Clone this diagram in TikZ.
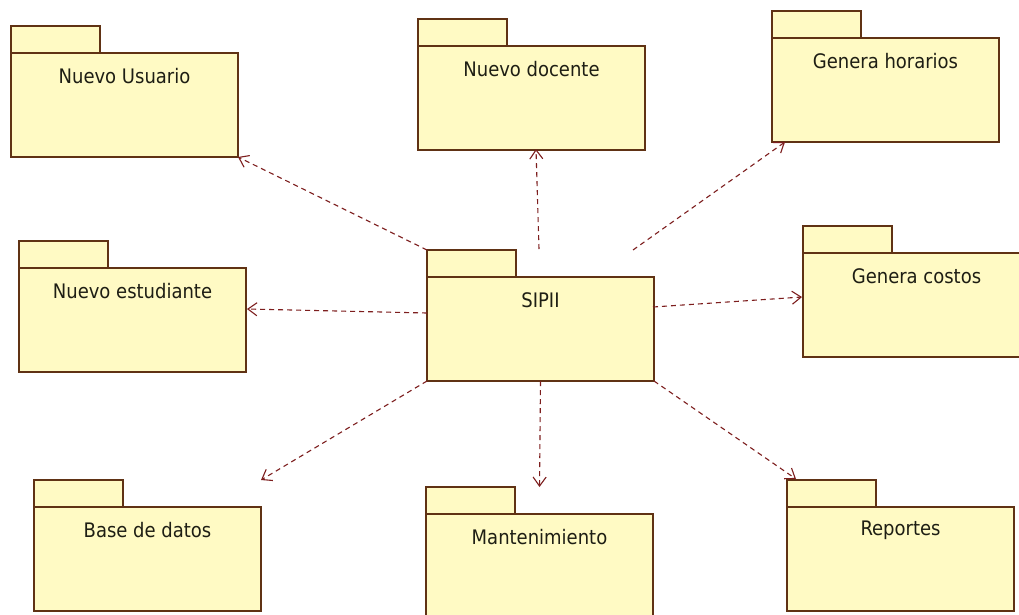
\documentclass[tikz,border=0pt]{standalone}
\usepackage{fontspec}
\setmainfont{DejaVu Sans Condensed}
\usetikzlibrary{arrows.meta}
\definecolor{pkgfill}{RGB}{255,250,196}
\definecolor{pkgline}{RGB}{96,50,20}
\definecolor{deplink}{RGB}{125,30,30}
\definecolor{pkgtext}{RGB}{30,30,20}
\tikzset{
  pkgbody/.style={draw=pkgline, fill=pkgfill, line width=1.7pt, minimum width=227pt, minimum height=104pt, inner sep=0pt, outer sep=0pt, anchor=north west},
  pkgtab/.style={draw=pkgline, fill=pkgfill, line width=1.7pt, minimum width=89pt, minimum height=27pt, inner sep=0pt, outer sep=0pt, anchor=south west},
  pkgname/.style={text=pkgtext, font=\fontsize{20}{22}\selectfont, inner sep=0pt},
  dep/.style={draw=deplink, line width=1.1pt, dash pattern=on 5pt off 4pt, -{Straight Barb[length=9pt,width=13pt,line width=1.1pt]}}
}
\newcommand{\pkg}[3]{% name, top-left of body, label
  \node[pkgbody] (#1) at (#2) {};
  \node[pkgtab] (#1tab) at (#1.north west) {};
  \node[pkgname] (#1name) at ([yshift=-23pt]#1.north) {#3};
}
\begin{document}
\begin{tikzpicture}[x=1pt,y=-1pt]
\useasboundingbox (0,0) rectangle (1019,614);
\clip (0,0) rectangle (1019,614);
\fill[white] (0,0) rectangle (1019,614);

% packages
\pkg{usr}{11,53}{Nuevo Usuario}
\pkg{doc}{418,46}{Nuevo docente}
\pkg{hor}{772,38}{Genera horarios}
\pkg{est}{19,268}{Nuevo estudiante}
\pkg{sipii}{427,277}{SIPII}
\pkg{cos}{803,253}{Genera costos}
\pkg{bd}{34,507}{Base de datos}
\pkg{mant}{426,514}{Mantenimiento}
\pkg{rep}{787,507}{Reportes}

% connector end points that are not anchors
\coordinate (sDoc) at (539,249);
\coordinate (tDoc) at (536,149);
\coordinate (sHor) at (633,250);
\coordinate (tHor) at (785,142);
\coordinate (sEst) at (427,313);
\coordinate (tEst) at (247,309);
\coordinate (sCos) at (653,307);
\coordinate (tCos) at (802,297);
\coordinate (tRep) at (796,479);

% dependencies
\draw[dep] (sipiitab.north west) -- (usr.south east);
\draw[dep] (sDoc) -- (tDoc);
\draw[dep] (sHor) -- (tHor);
\draw[dep] (sEst) -- (tEst);
\draw[dep] (sCos) -- (tCos);
\draw[dep] (sipii.south west) -- (bd.east |- bdtab.north);
\draw[dep] (sipii.south) -- (mant.north |- manttab.north);
\draw[dep] (sipii.south east) -- (tRep);
\end{tikzpicture}
\end{document}
